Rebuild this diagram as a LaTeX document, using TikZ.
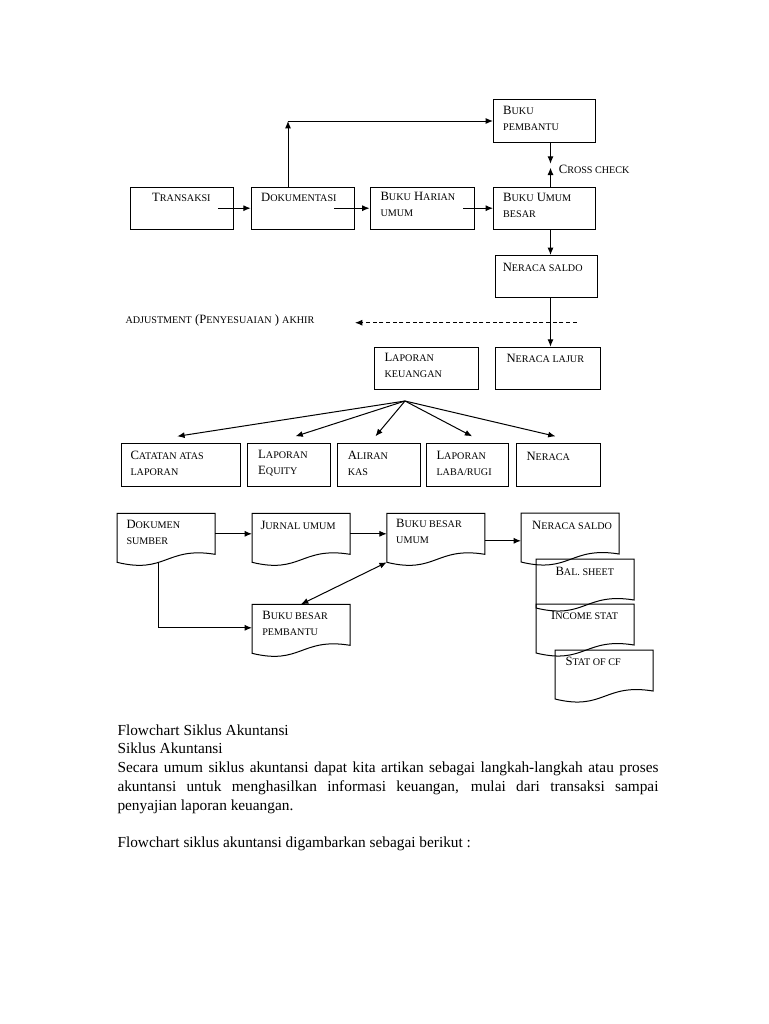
\documentclass[tikz,border=0pt]{standalone}
\usepackage{fontspec}
\usepackage{tikz}
\usetikzlibrary{arrows.meta}
\newfontfamily\bodyfont{Liberation Serif}
\newcommand\sm[1]{{\fontsize{7.6}{12}\selectfont #1}}

\tikzset{
  box/.style={draw, rectangle, anchor=north west, minimum width=77.5pt, minimum height=31.5pt, inner sep=0pt},
  doc/.style={rectangle, anchor=north west, minimum width=72.75pt, minimum height=30pt, inner sep=0pt},
  lbl/.style={anchor=west, align=left, inner sep=0pt, font=\bodyfont\fontsize{9.5}{12}\selectfont},
  arr/.style={-{Latex[length=5.5pt,width=4.5pt]}},
  body/.style={anchor=base west, inner sep=0pt, font=\bodyfont\fontsize{11.5}{14}\selectfont}
}

\begin{document}
\begin{tikzpicture}[x=0.75pt, y=-0.75pt, line width=0.75pt]

  \fill[white] (0,0) rectangle (768,1024);
  \useasboundingbox (0,0) rectangle (768,1024);

  % siklus, bagian atas
  \node[box] (transaksi) at (129.5,186.7) {};
  \node[box, minimum width=77.7pt] (dokumentasi) at (250.7,186.7) {};
  \node[box, minimum width=78.4pt] (harian) at (369.5,186.7) {};
  \node[box, minimum width=76.5pt] (besar) at (493,186.7) {};
  \node[box, minimum width=76.5pt, minimum height=31.8pt] (pembantu) at (493,99.3) {};
  \node[box, minimum width=76.5pt] (saldo) at (494.5,255) {};

  \node[lbl] (t-transaksi) at (151.7,197.3) {T\sm{RANSAKSI}};
  \node[lbl] (t-dokumentasi) at (260.7,197.3) {D\sm{OKUMENTASI}};
  \node[lbl] (t-harian) at (380,204.7) {B\sm{UKU} H\sm{ARIAN}\\\sm{UMUM}};
  \node[lbl] (t-besar) at (502.7,205.3) {B\sm{UKU} U\sm{MUM}\\\sm{BESAR}};
  \node[lbl] (t-pembantu) at (502.7,118.7) {B\sm{UKU}\\\sm{PEMBANTU}};
  \node[lbl] (t-saldo) at (502.3,267) {N\sm{ERACA SALDO}};
  \node[lbl] (t-cross) at (558.3,169) {C\sm{ROSS CHECK}};

  \draw[arr] ([shift={(-16,0)}]transaksi.east) -- (dokumentasi.west);
  \draw[arr] ([shift={(-21,0)}]dokumentasi.east) -- (harian.west);
  \draw[arr] ([shift={(-12,0)}]harian.east) -- (besar.west);

  \coordinate (upline) at ([shift={(-15,0)}]dokumentasi.north);
  \coordinate (corner) at (upline |- pembantu.west);
  \draw[arr] (upline) -- (corner);
  \draw[arr] (corner) -- (pembantu.west);

  \coordinate (ccA) at ([shift={(6,21)}]pembantu.south);
  \coordinate (ccB) at ([shift={(6,-19)}]besar.north);
  \draw[arr] ([shift={(6,0)}]pembantu.south) -- (ccA);
  \draw[arr] ([shift={(6,0)}]besar.north) -- (ccB);
  \draw[arr] ([shift={(6,0)}]besar.south) -- ([shift={(4.5,0)}]saldo.north);

  % penyesuaian dan laporan
  \node[box, minimum height=32pt] (keuangan) at (374.3,346.7) {};
  \node[box, minimum width=78.75pt, minimum height=32pt] (lajur) at (495,346.7) {};
  \node[lbl] (t-adjust) at (125,320.7) {\sm{ADJUSTMENT} (P\sm{ENYESUAIAN} ) \sm{AKHIR}};
  \node[lbl] (t-keuangan) at (384,365.3) {L\sm{APORAN}\\\sm{KEUANGAN}};
  \node[lbl] (t-lajur) at (506,358.3) {N\sm{ERACA LAJUR}};

  \coordinate (dashR) at (576.7,322.7);
  \coordinate (dashL) at (355,322.7);
  \draw[arr, dash pattern=on 3pt off 2pt] (dashR) -- (dashL);
  \draw[arr] ([shift={(4.5,0)}]saldo.south) -- ([shift={(2.5,0)}]lajur.north);

  \node[box, minimum width=89.5pt, minimum height=32pt] (catatan) at (120.7,443.3) {};
  \node[box, minimum width=62.5pt, minimum height=32pt] (equity) at (246.7,443.3) {};
  \node[box, minimum width=62.5pt, minimum height=32pt] (aliran) at (336.7,443.3) {};
  \node[box, minimum width=61.7pt, minimum height=32pt] (labarugi) at (426,443.3) {};
  \node[box, minimum width=63pt, minimum height=32pt] (neraca) at (516,443.3) {};

  \node[lbl] (t-catatan) at (130,463.3) {C\sm{ATATAN ATAS}\\\sm{LAPORAN}};
  \node[lbl] (t-equity) at (257.7,463.3) {L\sm{APORAN}\\E\sm{QUITY}};
  \node[lbl] (t-aliran) at (347.3,463.3) {A\sm{LIRAN}\\\sm{KAS}};
  \node[lbl] (t-labarugi) at (436,463.3) {L\sm{APORAN}\\\sm{LABA/RUGI}};
  \node[lbl] (t-neraca) at (526,456.7) {N\sm{ERACA}};

  \coordinate (fan) at (405,401);
  \foreach \b/\dx in {catatan/-3.6, equity/6.6, aliran/-3.4, labarugi/4.5, neraca/-3}
    \draw[arr] (fan) -- ([shift={(\dx,-7)}]\b.north);

  % dokumen
  \node[doc] (sumber) at (117,513.3) {};
  \node[doc] (jurnal) at (252,513.3) {};
  \node[doc] (bbumum) at (386.8,513.3) {};
  \node[doc] (nsaldo) at (521,513) {};
  \node[doc] (balsheet) at (536,559) {};
  \node[doc] (income) at (536,604) {};
  \node[doc] (statcf) at (555,650) {};
  \node[doc] (bbpembantu) at (252,604.3) {};

  \foreach \d in {sumber,jurnal,bbumum,nsaldo,balsheet,income,statcf,bbpembantu}
    \draw (\d.north west) -- (\d.north east) -- (\d.south east)
      .. controls ([yshift=6pt]\d.south) and ([yshift=-15pt]\d.south) .. ([yshift=-6pt]\d.south west) -- cycle;

  \node[lbl] (t-sumber) at (126,532.2) {D\sm{OKUMEN}\\\sm{SUMBER}};
  \node[lbl] (t-jurnal) at (260,525) {J\sm{URNAL UMUM}};
  \node[lbl] (t-bbumum) at (395.7,531.7) {B\sm{UKU BESAR}\\\sm{UMUM}};
  \node[lbl] (t-nsaldo) at (531.7,525) {N\sm{ERACA SALDO}};
  \node[lbl] (t-balsheet) at (555,571.7) {B\sm{AL. SHEET}};
  \node[lbl] (t-income) at (550.7,615) {I\sm{NCOME STAT}};
  \node[lbl] (t-statcf) at (565,661.7) {S\sm{TAT OF CF}};
  \node[lbl] (t-bbpembantu) at (261.8,623) {B\sm{UKU BESAR}\\\sm{PEMBANTU}};

  \draw[arr] (sumber.east) -- (jurnal.west);
  \draw[arr] (jurnal.east) -- (bbumum.west);
  \coordinate (bbout) at ([shift={(0,7)}]bbumum.east);
  \draw[arr] (bbout) -- (bbout -| nsaldo.west);
  \draw[{Latex[length=5.5pt,width=4.5pt]}-{Latex[length=5.5pt,width=4.5pt]}] ([yshift=-6pt]bbumum.south west) -- (bbpembantu.north);
  \draw[arr] ([shift={(-8,8)}]sumber.south) |- ([shift={(0,3)}]bbpembantu.west);

  % teks
  \node[body] (title) at (117,735) {Flowchart Siklus Akuntansi};
  \node[body] (subtitle) at (117,753.8) {Siklus Akuntansi};
  \node[body] (para1) at (117,772.6) {\makebox[405.75pt][s]{Secara umum siklus akuntansi dapat kita artikan sebagai langkah-langkah atau proses}};
  \node[body] (para2) at (117,791.4) {\makebox[405.75pt][s]{akuntansi untuk menghasilkan informasi keuangan, mulai dari transaksi sampai}};
  \node[body] (para3) at (117,810.2) {penyajian laporan keuangan.};
  \node[body] (closing) at (117,847.8) {Flowchart siklus akuntansi digambarkan sebagai berikut :};

\end{tikzpicture}
\end{document}
